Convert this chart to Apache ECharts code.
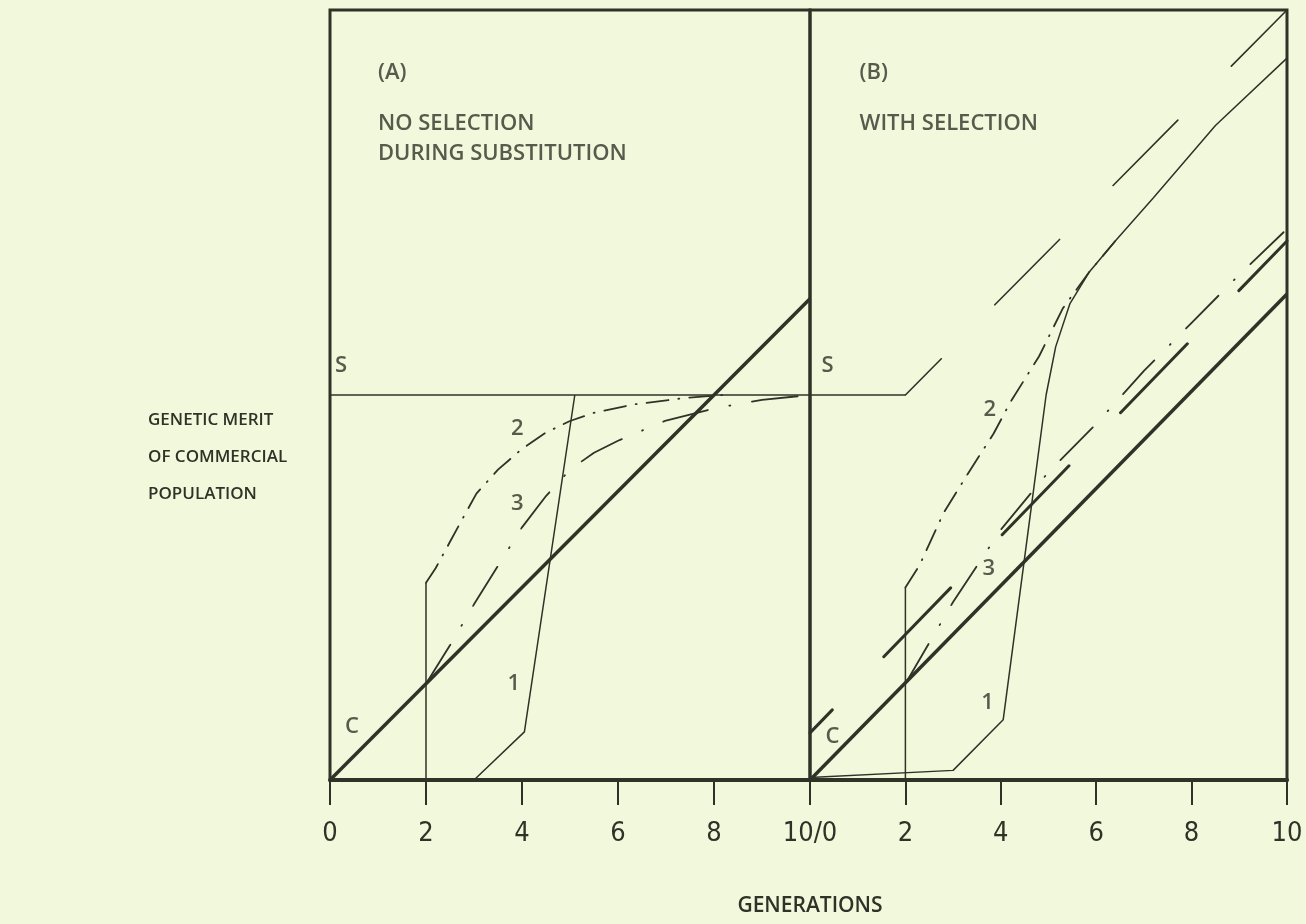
<!DOCTYPE html>
<html>
<head>
<meta charset="utf-8">
<title>Genetic merit of commercial population</title>
<script src="https://cdn.jsdelivr.net/npm/echarts@6/dist/echarts.min.js"></script>
<style>
  html, body { margin: 0; padding: 0; background: #f2f8dc; }
  #chart { width: 1306px; height: 924px; }
</style>
</head>
<body>
<div id="chart"></div>
<script>
// generations, both panels run 0..10
const genTicks = [0, 2, 4, 6, 8, 10]

// panel A: no selection during substitution
const aLineC = [[0, 0], [10, 10]]
const aLineS = [[0, 8], [10, 8]]
const aCurve1 = [[3, 0], [4.05, 1.0], [5.1, 8]]
const aCurve2Base = [[2, 0], [2, 4.1]]
const aCurve2 = [[2, 4.1], [2.2, 4.4], [2.5, 4.95], [2.8, 5.5], [3.05, 5.95], [3.5, 6.45], [4, 6.88], [4.5, 7.22], [5, 7.46], [5.5, 7.63], [6.3, 7.8], [7.4, 7.94], [8.2, 8]]
const aCurve3 = [[2, 2], [2.5, 2.8], [3, 3.65], [3.5, 4.45], [4, 5.25], [4.5, 5.9], [5, 6.45], [5.5, 6.8], [6, 7.05], [7, 7.47], [8, 7.72], [9, 7.9], [10, 8]]
const aNotes = [['S', 0.23, 8.6], ['C', 0.46, 1.1], ['1', 3.83, 2.0], ['2', 3.9, 7.3], ['3', 3.9, 5.75]]
const aTitle = [['(A)', 1.0, 14.69], ['NO SELECTION', 1.0, 13.64], ['DURING SUBSTITUTION', 1.0, 13.02]]

// panel B: with selection
const bLineC = [[0, 0], [10, 10.1]]
const bLineCSel = [[0, 0.98], [10, 11.2]]
const bLineS = [[0, 8], [2, 8]]
const bLineSSel = [[2, 8], [10, 16]]
const bCurve1 = [[0, 0.05], [3, 0.2], [4.05, 1.25], [4.55, 5.0], [4.95, 8.0], [5.15, 9.0], [5.45, 9.9], [5.85, 10.55], [6.4, 11.2], [7.2, 12.1], [8.5, 13.6], [10, 15.0]]
const bCurve2Base = [[2, 0], [2, 4.0]]
const bCurve2 = [[2, 4.0], [2.3, 4.47], [2.8, 5.55], [3.3, 6.35], [3.85, 7.2], [4.2, 7.85], [4.8, 8.8], [5.3, 9.8], [5.85, 10.55], [6.4, 11.2]]
const bCurve3 = [[2, 2], [2.5, 2.85], [3, 3.7], [3.5, 4.45], [4, 5.2], [5, 6.4], [6, 7.4], [7, 8.5], [8, 9.5], [9, 10.5], [10, 11.45]]
const bNotes = [['S', 0.37, 8.6], ['C', 0.47, 0.9], ['1', 3.72, 1.6], ['2', 3.77, 7.7], ['3', 3.75, 4.4]]
const bTitle = [['(B)', 1.04, 14.69], ['WITH SELECTION', 1.04, 13.64]]

const yTitle = ['GENETIC MERIT', 'OF COMMERCIAL', 'POPULATION']

const ink = '#2e3327'
const font = '"Open Sans", Lato, "Noto Sans", sans-serif'

// one plain line series
function line(data, idx, width, dash, offset) {
  return {
    type: 'line',
    xAxisIndex: idx,
    yAxisIndex: idx,
    data: data,
    symbol: 'none',
    silent: true,
    animation: false,
    lineStyle: {
      color: ink,
      width: width,
      type: dash || 'solid',
      dashOffset: offset || 0,
      cap: dash ? 'round' : 'butt'
    }
  }
}

// text placed at data points, no symbol
function notes(list, idx, size, align) {
  return {
    type: 'scatter',
    xAxisIndex: idx,
    yAxisIndex: idx,
    symbolSize: 0,
    silent: true,
    animation: false,
    data: list.map(n => ({ name: n[0], value: [n[1], n[2]] })),
    label: {
      show: true,
      position: [0, 0],
      formatter: '{b}',
      align: align,
      verticalAlign: 'middle',
      color: ink,
      fontFamily: font,
      fontWeight: 600,
      fontSize: size
    }
  }
}

function xAxis(idx) {
  return {
    gridIndex: idx,
    type: 'value',
    min: 0,
    max: 10,
    interval: 2,
    splitLine: { show: false },
    axisLine: { show: true, lineStyle: { color: ink, width: 4 } },
    axisTick: { show: true, length: 25, lineStyle: { color: ink, width: 2 } },
    axisLabel: {
      margin: 40,
      color: ink,
      fontFamily: '"Liberation Sans Narrow", "DejaVu Sans Condensed", sans-serif',
      fontSize: 27,
      showMinLabel: true,
      showMaxLabel: true,
      formatter: function (v) {
        if (idx === 0 && v === 10) return '10/0'
        if (idx === 1 && v === 0) return ''
        return String(v)
      }
    }
  }
}

function yAxis(idx) {
  return { gridIndex: idx, type: 'value', min: 0, max: 16, show: false }
}

const gridStyle = { show: true, borderColor: ink, borderWidth: 3, top: 10, height: 770 }

let chart = echarts.init(document.getElementById('chart'), null, { renderer: 'canvas' })
chart.setOption({
  backgroundColor: '#f2f8dc',
  animation: false,
  grid: [
    Object.assign({ left: 330, width: 480 }, gridStyle),
    Object.assign({ left: 810, width: 477 }, gridStyle)
  ],
  xAxis: [xAxis(0), xAxis(1)],
  yAxis: [yAxis(0), yAxis(1)],
  graphic: [{
    type: 'text',
    left: 148,
    top: 402,
    style: {
      text: yTitle.join('\n'),
      fill: ink,
      font: '600 17px ' + font,
      lineHeight: 37
    }
  }, {
    type: 'text',
    x: 810,
    y: 906,
    style: {
      text: 'GENERATIONS',
      fill: ink,
      font: '600 21px ' + font,
      align: 'center',
      verticalAlign: 'middle'
    }
  }],
  series: [
    line(aLineS, 0, 1.5),
    line(aCurve1, 0, 1.5),
    line(aCurve2Base, 0, 1.5),
    line(aCurve2, 0, 1.8, [22, 10, 1, 10]),
    line(aCurve3, 0, 1.8, [46, 22, 1, 22]),
    line(aLineC, 0, 3.5),
    notes(aNotes, 0, 22, 'center'),
    notes(aTitle, 0, 22, 'left'),

    line(bLineS, 1, 1.5),
    line(bLineSSel, 1, 1.6, [92, 76], 41),
    line(bCurve1, 1, 1.5),
    line(bCurve2Base, 1, 1.5),
    line(bCurve2, 1, 1.8, [22, 10, 1, 10]),
    line(bCurve3, 1, 1.8, [46, 22, 1, 22]),
    line(bLineCSel, 1, 3, [96, 74], 64),
    line(bLineC, 1, 3.5),
    notes(bNotes, 1, 22, 'center'),
    notes(bTitle, 1, 22, 'left')
  ]
})
</script>
</body>
</html>
